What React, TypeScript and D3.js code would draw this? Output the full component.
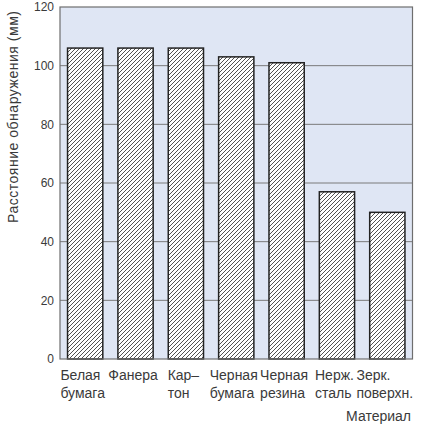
import React, { useEffect, useRef } from "react";
import * as d3 from "d3";

const categories: string[][] = [
  ["Белая", "бумага"],
  ["Фанера"],
  ["Кар–", "тон"],
  ["Черная", "бумага"],
  ["Черная", "резина"],
  ["Нерж.", "сталь"],
  ["Зерк.", "поверхн."],
];
const values: number[] = [106, 106, 106, 103, 101, 57, 50];
const yTicks: number[] = [0, 20, 40, 60, 80, 100, 120];
const yTitle = "Расстояние обнаружения (мм)";
const xTitle = "Материал";

const W = 428;
const H = 427;
const M = { left: 60, right: 15.5, top: 7, bottom: 68 };

export default function App() {
  const ref = useRef<SVGSVGElement>(null);

  useEffect(() => {
    const svg = d3.select(ref.current);
    svg.selectAll("*").remove();
    const font = "'Liberation Sans', Arial, sans-serif";
    const textColor = "#3a3a3a";

    const x = d3
      .scaleBand<number>()
      .domain(d3.range(values.length))
      .range([M.left, W - M.right])
      .paddingInner(0.3)
      .paddingOuter(0.15);
    const y = d3.scaleLinear().domain([0, 120]).range([H - M.bottom, M.top]);

    const defs = svg.append("defs");
    const pat = defs
      .append("pattern")
      .attr("id", "hatch")
      .attr("patternUnits", "userSpaceOnUse")
      .attr("width", 4)
      .attr("height", 4);
    pat.append("rect").attr("width", 4).attr("height", 4).attr("fill", "#ffffff");
    pat
      .append("path")
      .attr("d", "M-1,1 l2,-2 M0,4 l4,-4 M3,5 l2,-2")
      .attr("stroke", "#333")
      .attr("stroke-width", 0.85);

    svg
      .append("rect")
      .attr("x", M.left)
      .attr("y", M.top)
      .attr("width", W - M.left - M.right)
      .attr("height", H - M.top - M.bottom)
      .attr("fill", "#dfe6f4");

    svg
      .append("g")
      .selectAll("line")
      .data(yTicks.filter((t) => t > 0 && t < 120))
      .join("line")
      .attr("x1", M.left)
      .attr("x2", W - M.right)
      .attr("y1", (d) => y(d))
      .attr("y2", (d) => y(d))
      .attr("stroke", "#7a7a7a")
      .attr("stroke-width", 1);

    svg
      .append("g")
      .selectAll("rect")
      .data(values)
      .join("rect")
      .attr("x", (_, i) => x(i)!)
      .attr("y", (d) => y(d))
      .attr("width", x.bandwidth())
      .attr("height", (d) => y(0) - y(d))
      .attr("fill", "url(#hatch)")
      .attr("stroke", "#222")
      .attr("stroke-width", 1.5);

    svg
      .append("rect")
      .attr("x", M.left)
      .attr("y", M.top)
      .attr("width", W - M.left - M.right)
      .attr("height", H - M.top - M.bottom)
      .attr("fill", "none")
      .attr("stroke", "#6e6e6e")
      .attr("stroke-width", 1.2);

    svg
      .append("g")
      .selectAll("text")
      .data(yTicks)
      .join("text")
      .attr("x", M.left - 6)
      .attr("y", (d) => y(d))
      .attr("dy", "0.36em")
      .attr("text-anchor", "end")
      .attr("font-family", font)
      .attr("font-size", 12)
      .attr("fill", textColor)
      .text((d) => String(d));

    svg
      .append("text")
      .attr("transform", `translate(18, 117) rotate(-90)`)
      .attr("text-anchor", "middle")
      .attr("font-family", font)
      .attr("font-size", 14)
      .attr("textLength", 212)
      .attr("lengthAdjust", "spacing")
      .attr("fill", textColor)
      .text(yTitle);

    const cg = svg.append("g");
    categories.forEach((lines, i) => {
      const t = cg
        .append("text")
        .attr("font-family", font)
        .attr("font-size", 14)
        .attr("fill", textColor);
      lines.forEach((ln, j) => {
        t.append("tspan")
          .attr("y", y(0) + 21 + j * 17.5)
          .text(ln);
      });
      let maxW = 0;
      t.selectAll<SVGTSpanElement, unknown>("tspan").each(function () {
        maxW = Math.max(maxW, this.getComputedTextLength());
      });
      const cx = x(i)! + x.bandwidth() / 2 - 2.5;
      t.selectAll("tspan").attr("x", cx - maxW / 2);
    });

    svg
      .append("text")
      .attr("x", 411)
      .attr("y", y(0) + 62)
      .attr("text-anchor", "end")
      .attr("font-family", font)
      .attr("font-size", 14)
      .attr("fill", textColor)
      .text(xTitle);
  }, []);

  return (
    <svg
      ref={ref}
      width={W}
      height={H}
      style={{ position: "absolute", left: 0, top: 0, display: "block", background: "#fff" }}
    />
  );
}
